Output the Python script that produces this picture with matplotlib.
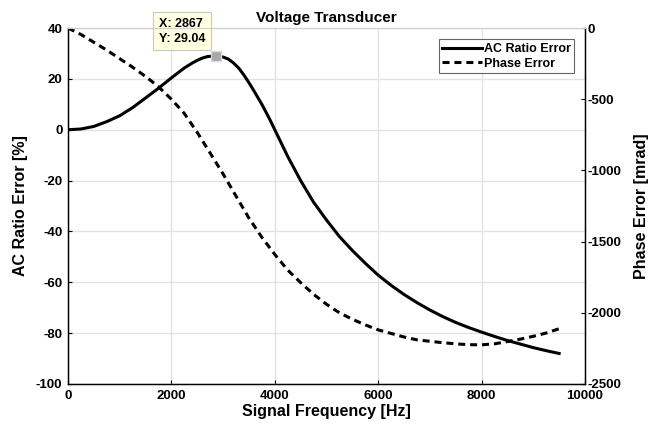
import numpy as np
import matplotlib
matplotlib.use("Agg")
import matplotlib.pyplot as plt

# data
freq = [0, 250, 500, 750, 1000, 1250, 1500, 1750, 2000, 2250, 2400, 2500, 2600,
        2700, 2867, 3000, 3100, 3200, 3300, 3400, 3500, 3600, 3750, 3900, 4000,
        4250, 4500, 4750, 5000, 5250, 5500, 5750, 6000, 6250, 6500, 6750, 7000,
        7250, 7500, 7750, 8000, 8250, 8500, 8750, 9000, 9250, 9500]
ratio_err = [0, 0.3, 1.3, 3.2, 5.5, 8.7, 12.5, 16.3, 20.4, 24.3, 26.2, 27.3, 28.2,
             28.8, 29.04, 28.6, 27.8, 26.3, 24.3, 21.6, 18.5, 15.2, 10.0, 4.2, 0.0,
             -10.5, -20.0, -28.5, -35.5, -42.0, -47.5, -52.5, -57.2, -61.2, -64.8, -68.0, -70.9,
             -73.5, -75.8, -77.8, -79.6, -81.3, -82.9, -84.3, -85.7, -86.9, -88.0]
phase_freq = [0, 250, 500, 750, 1000, 1250, 1500, 1750, 2000, 2250, 2500, 2750, 3000,
              3250, 3500, 3750, 4000, 4250, 4500, 4750, 5000, 5250, 5500, 5750, 6000,
              6250, 6500, 6750, 7000, 7250, 7500, 7750, 8000, 8250, 8500, 8750, 9000,
              9250, 9500]
phase_err = [0, -45, -100, -155, -215, -275, -340, -412, -500, -600, -733, -878, -1025,
             -1180, -1335, -1470, -1590, -1700, -1788, -1870, -1940, -2000, -2045, -2085, -2120,
             -2145, -2170, -2190, -2200, -2210, -2218, -2224, -2225, -2218, -2202, -2185, -2165,
             -2142, -2112]
tip_x = 2867
tip_y = 29.04

plt.rcParams['font.family'] = ['Liberation Sans', 'DejaVu Sans']
plt.rcParams['font.weight'] = 'bold'
plt.rcParams['axes.unicode_minus'] = False

fig = plt.figure(figsize=(6.57, 4.25), dpi=100)
ax = fig.add_axes([0.1035, 0.0965, 0.7869, 0.8375])
ax2 = ax.twinx()

grid_c = '#e3e3e3'
ax.set_xlim(0, 10000)
ax.set_ylim(-100, 40)
ax.set_xticks(np.arange(0, 10001, 2000))
ax.set_yticks(np.arange(-100, 41, 20))
ax.grid(True, color=grid_c, lw=1)
ax.set_axisbelow(True)
ax2.set_ylim(-2500, 0)
ax2.set_yticks(np.arange(-2500, 1, 500))

l1, = ax.plot(freq, ratio_err, color='black', lw=2.2, label='AC Ratio Error')
l2, = ax2.plot(phase_freq, phase_err, color='black', lw=2.2, ls=(0, (2.3, 1.6)),
               label='Phase Error')

for a in (ax, ax2):
    a.tick_params(direction='in', labelsize=9.5, length=3, width=0.8)
    a.spines['top'].set_color('#cfcfcf')
    for s in ('left', 'right', 'bottom'):
        a.spines[s].set_linewidth(0.9)
for lab in ax.get_xticklabels() + ax.get_yticklabels() + ax2.get_yticklabels():
    lab.set_fontweight('bold')
ax.tick_params(axis='x', pad=4)
ax.tick_params(axis='y', pad=4)
ax2.tick_params(axis='y', pad=2)

ax.set_title('Voltage Transducer', fontsize=11, fontweight='bold', pad=4)
ax.set_xlabel('Signal Frequency [Hz]', fontsize=11.5, fontweight='bold', labelpad=2)
ax.set_ylabel('AC Ratio Error [%]', fontsize=11.5, fontweight='bold', labelpad=6)
ax2.set_ylabel('Phase Error [mrad]', fontsize=11.5, fontweight='bold', labelpad=9)

leg = ax2.legend(handles=[l1, l2], loc='upper right', bbox_to_anchor=(0.979, 0.968),
                 fontsize=9, frameon=True, fancybox=False, handlelength=3.2,
                 handletextpad=0.1, borderpad=0.3, labelspacing=0.2, borderaxespad=0)
leg.get_frame().set_edgecolor('#404040')
leg.get_frame().set_linewidth(0.8)
for t in leg.get_texts():
    t.set_fontweight('bold')

# data tip
ax2.set_zorder(ax.get_zorder() + 1)
ax2.patch.set_visible(False)
ax.plot([tip_x], [tip_y], marker='s', ms=7, color='#a8a8a8', mec='#d8d8d8', mew=1, zorder=5)
ax.annotate('X: %d\nY: %.2f' % (tip_x, tip_y), xy=(tip_x, tip_y), xytext=(-8, 8),
            textcoords='offset points', ha='right', va='bottom', multialignment='left',
            fontsize=9, fontweight='bold', linespacing=1.3, annotation_clip=False, zorder=10,
            bbox=dict(boxstyle='square,pad=0.45', fc='#ffffe1', ec='#c8c8c8', lw=0.8))

fig.savefig('out.png', dpi=100)
